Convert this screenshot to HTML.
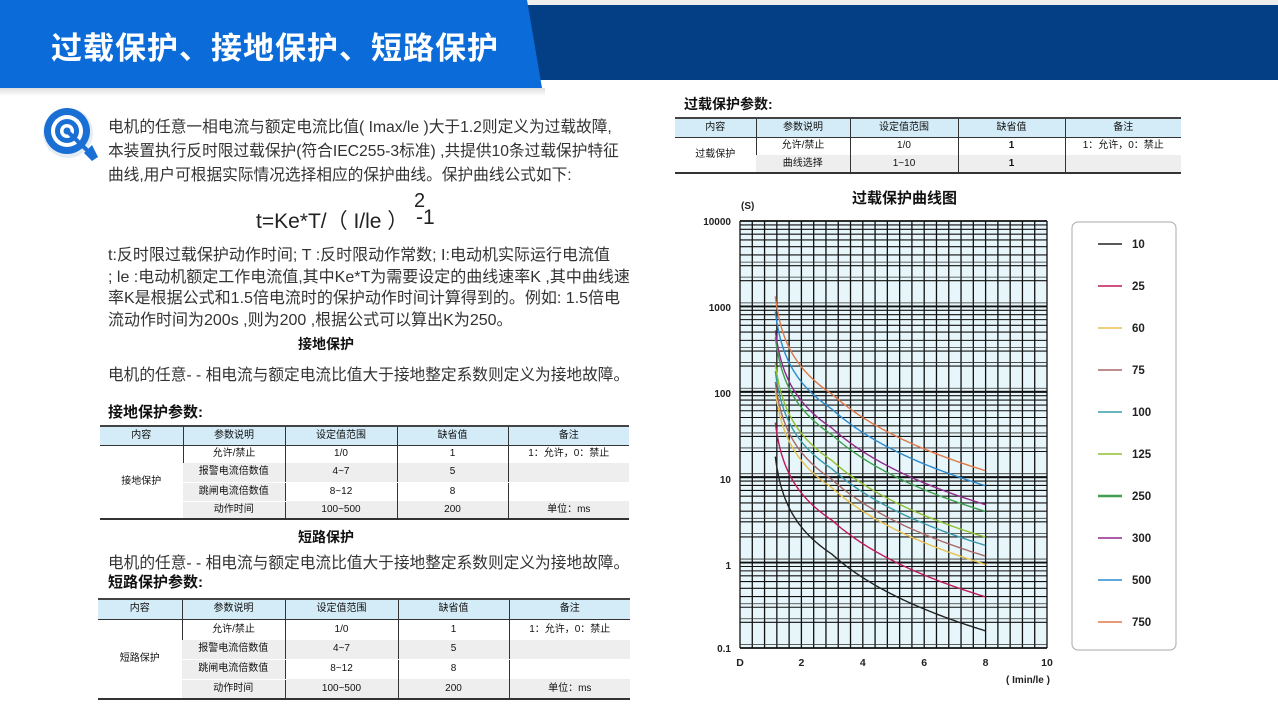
<!DOCTYPE html>
<html><head><meta charset="utf-8">
<style>
*{margin:0;padding:0;box-sizing:border-box}
body{width:1278px;height:716px;background:#fff;position:relative;overflow:hidden;font-family:"Liberation Sans","Noto Sans CJK SC",sans-serif;color:#222}
.abs{position:absolute;white-space:nowrap}
.p{font-size:15.7px;color:#333}
.b{font-weight:bold;font-size:15px;color:#111}
table{position:absolute;border-collapse:collapse;font-size:10px;font-family:"Liberation Sans","Noto Sans CJK SC",sans-serif;color:#111}
td{text-align:center;vertical-align:middle;border-left:1px solid #333;padding:0;line-height:12px}
td:first-child{border-left:none}
tr.h td{background:#d4ecf7;border-top:2px solid #444;border-bottom:1px solid #333}
tr.g td.c{background:#eee}
table{border-bottom:2px solid #333}
td.c{border-bottom:1px solid #fff}
</style></head><body>
<div class="abs" style="left:0;top:0;width:1278px;height:6px;background:#eee"></div>
<div class="abs" style="left:515px;top:5px;width:763px;height:75px;background:#043f86"></div>
<div class="abs" style="left:0;top:0;width:545px;height:88px;background:#0a6bd9;clip-path:polygon(0 0,527px 0,542px 88px,0 88px);box-shadow:0 4px 8px rgba(0,0,0,.2)"></div>
<div class="abs" style="left:0;top:88px;width:545px;height:8px;background:linear-gradient(#ddd,#fff)"></div>
<div class="abs" style="left:51px;top:23px;font-size:31px;font-weight:bold;color:#fff;letter-spacing:1px">过载保护、接地保护、短路保护</div>

<svg class="abs" style="left:40px;top:105px" width="60" height="60" viewBox="0 0 60 60">
<circle cx="28" cy="28" r="25" fill="#ccd9ea" opacity=".5"/>
<circle cx="27" cy="26" r="23" fill="#1a6fd4"/>
<circle cx="27" cy="26" r="16" fill="#fff"/>
<circle cx="27" cy="26" r="12" fill="#1a6fd4"/>
<circle cx="27" cy="26" r="7" fill="#fff"/>
<circle cx="27" cy="26" r="3.5" fill="#1a6fd4"/>
<line x1="28" y1="27" x2="50" y2="48" stroke="#1a6fd4" stroke-width="4"/>
<polygon points="44,48 52,40 58,52 52,56" fill="#1a6fd4"/>
</svg>

<div class="abs p" style="left:108px;top:116px;line-height:24px">电机的任意一相电流与额定电流比值( Imax/le )大于1.2则定义为过载故障,<br>本装置执行反时限过载保护(符合IEC255-3标准) ,共提供10条过载保护特征<br>曲线,用户可根据实际情况选择相应的保护曲线。保护曲线公式如下:</div>
<div class="abs" style="left:256px;top:205px;font-size:21px;color:#222">t=Ke*T/（ I/le ）</div>
<div class="abs" style="left:414px;top:190px;font-size:20px;color:#222">2</div>
<div class="abs" style="left:416px;top:206px;font-size:21px;color:#222">-1</div>
<div class="abs p" style="left:108px;top:245px;line-height:21.5px;font-size:16px">t:反时限过载保护动作时间; T :反时限动作常数; I:电动机实际运行电流值<br>; le :电动机额定工作电流值,其中Ke*T为需要设定的曲线速率K ,其中曲线速<br>率K是根据公式和1.5倍电流时的保护动作时间计算得到的。例如: 1.5倍电<br>流动作时间为200s ,则为200 ,根据公式可以算出K为250。</div>
<div class="abs b" style="left:298px;top:334px;font-size:14px">接地保护</div>
<div class="abs p" style="left:108px;top:362px">电机的任意- - 相电流与额定电流比值大于接地整定系数则定义为接地故障。</div>
<div class="abs b" style="left:108px;top:401px">接地保护参数:</div>

<table style="left:100px;top:425px;width:529px">
<colgroup><col style="width:83px"><col style="width:102px"><col style="width:112px"><col style="width:111px"><col style="width:121px"></colgroup>
<tr class="h" style="height:19px"><td>内容</td><td>参数说明</td><td>设定值范围</td><td>缺省值</td><td>备注</td></tr>
<tr style="height:18px"><td rowspan="4">接地保护</td><td>允许/禁止</td><td>1/0</td><td>1</td><td>1：允许，0：禁止</td></tr>
<tr class="g" style="height:19px"><td class="c">报警电流倍数值</td><td class="c">4~7</td><td class="c">5</td><td class="c"></td></tr>
<tr style="height:19px"><td class="c" style="background:#eee">跳闸电流倍数值</td><td>8~12</td><td>8</td><td></td></tr>
<tr class="g" style="height:18px"><td class="c">动作时间</td><td class="c">100~500</td><td class="c">200</td><td class="c">单位：ms</td></tr>
</table>

<div class="abs b" style="left:298px;top:527px;font-size:14px">短路保护</div>
<div class="abs p" style="left:108px;top:550px">电机的任意- - 相电流与额定电流比值大于接地整定系数则定义为接地故障。</div>
<div class="abs b" style="left:108px;top:571px">短路保护参数:</div>

<table style="left:98px;top:598px;width:532px">
<colgroup><col style="width:84px"><col style="width:103px"><col style="width:113px"><col style="width:111px"><col style="width:121px"></colgroup>
<tr class="h" style="height:20px"><td>内容</td><td>参数说明</td><td>设定值范围</td><td>缺省值</td><td>备注</td></tr>
<tr style="height:21px"><td rowspan="4">短路保护</td><td>允许/禁止</td><td>1/0</td><td>1</td><td>1：允许，0：禁止</td></tr>
<tr class="g" style="height:19px"><td class="c">报警电流倍数值</td><td class="c">4~7</td><td class="c">5</td><td class="c"></td></tr>
<tr style="height:20px"><td class="c" style="background:#eee">跳闸电流倍数值</td><td>8~12</td><td>8</td><td></td></tr>
<tr class="g" style="height:20px"><td class="c">动作时间</td><td class="c">100~500</td><td class="c">200</td><td class="c">单位：ms</td></tr>
</table>

<div class="abs b" style="left:684px;top:94px;font-size:14px">过载保护参数:</div>
<table style="left:675px;top:117px;width:506px">
<colgroup><col style="width:81px"><col style="width:94px"><col style="width:108px"><col style="width:107px"><col style="width:116px"></colgroup>
<tr class="h" style="height:19px"><td>内容</td><td>参数说明</td><td>设定值范围</td><td>缺省值</td><td>备注</td></tr>
<tr style="height:18px"><td rowspan="2">过载保护</td><td>允许/禁止</td><td>1/0</td><td><b>1</b></td><td>1：允许，0：禁止</td></tr>
<tr class="g" style="height:18px"><td class="c">曲线选择</td><td class="c">1~10</td><td class="c"><b>1</b></td><td class="c"></td></tr>
</table>

<div class="abs b" style="left:852px;top:187px;font-size:15px">过载保护曲线图</div>
<svg id="ch" class="abs" style="left:0;top:0" width="1278" height="716"></svg>
<script>
var s='',X0=740,X1=1047,Y0=648,D=85.4;
function xp(x){return X0+x*(X1-X0)/10}
function yp(t){return Y0-(Math.log10(t)+1)*D}
s+='<rect x="'+X0+'" y="221" width="'+(X1-X0)+'" height="427" fill="#e6f6fa"/>';
for(var i=0;i<=25;i++){var x=X0+i*(X1-X0)/25;s+='<line x1="'+x+'" y1="221" x2="'+x+'" y2="648" stroke="#111" stroke-width="1.3"/>';}
for(var d=-1;d<4;d++)for(var k=1;k<=10;k++){var t=k*Math.pow(10,d);var y=yp(t);s+='<line x1="'+X0+'" y1="'+y+'" x2="'+X1+'" y2="'+y+'" stroke="#111" stroke-width="'+(k==1||k==10?1.8:1.1)+'"/>';if(k<=3){var y2=yp(t*1.1);s+='<line x1="'+X0+'" y1="'+y2+'" x2="'+X1+'" y2="'+y2+'" stroke="#333" stroke-width="0.8"/>';}}
var L=[[10,'#222'],[25,'#c0185a'],[60,'#e8c050'],[75,'#a86868'],[100,'#3a9aaa'],[125,'#90c030'],[250,'#40a050'],[300,'#902a8a'],[500,'#2a8ad0'],[750,'#e07848']];
L.forEach(function(c,j){var p='';for(var x=1.15;x<=8.001;x+=0.04){var t=c[0]/(x*x-1)*(x<3?Math.pow(x/3,0.6):1);p+=(p?'L':'M')+xp(x).toFixed(1)+','+yp(t).toFixed(1);}
s+='<path d="'+p+'" fill="none" stroke="'+c[1]+'" stroke-width="1.4"/>';
var ly=244+j*42;s+='<line x1="1098" y1="'+ly+'" x2="1122" y2="'+ly+'" stroke="'+c[1]+'" stroke-width="'+(c[0]==250?2.5:1.5)+'"/><text x="1132" y="'+(ly+4)+'" font-size="11.5" font-weight="bold" fill="#222">'+c[0]+'</text>';});
s+='<rect x="1072" y="222" width="104" height="428" rx="6" fill="none" stroke="#aaa"/>';
var yl=[['10000',221],['1000',307],['100',393],['10',479],['1',565],['0.1',648]];
yl.forEach(function(a){s+='<text x="731" y="'+(a[1]+4)+'" text-anchor="end" font-size="10" font-weight="bold" fill="#222">'+a[0]+'</text>';});
['D','2','4','6','8','10'].forEach(function(a,i){s+='<text x="'+xp(i*2)+'" y="666" text-anchor="middle" font-size="10.5" font-weight="bold" fill="#222">'+a+'</text>';});
s+='<text x="741" y="209" font-size="10" font-weight="bold" fill="#222">(S)</text><text x="1028" y="683" text-anchor="middle" font-size="10" font-weight="bold" fill="#222">( Imin/le )</text>';
document.getElementById('ch').innerHTML=s;
</script>
</body></html>
